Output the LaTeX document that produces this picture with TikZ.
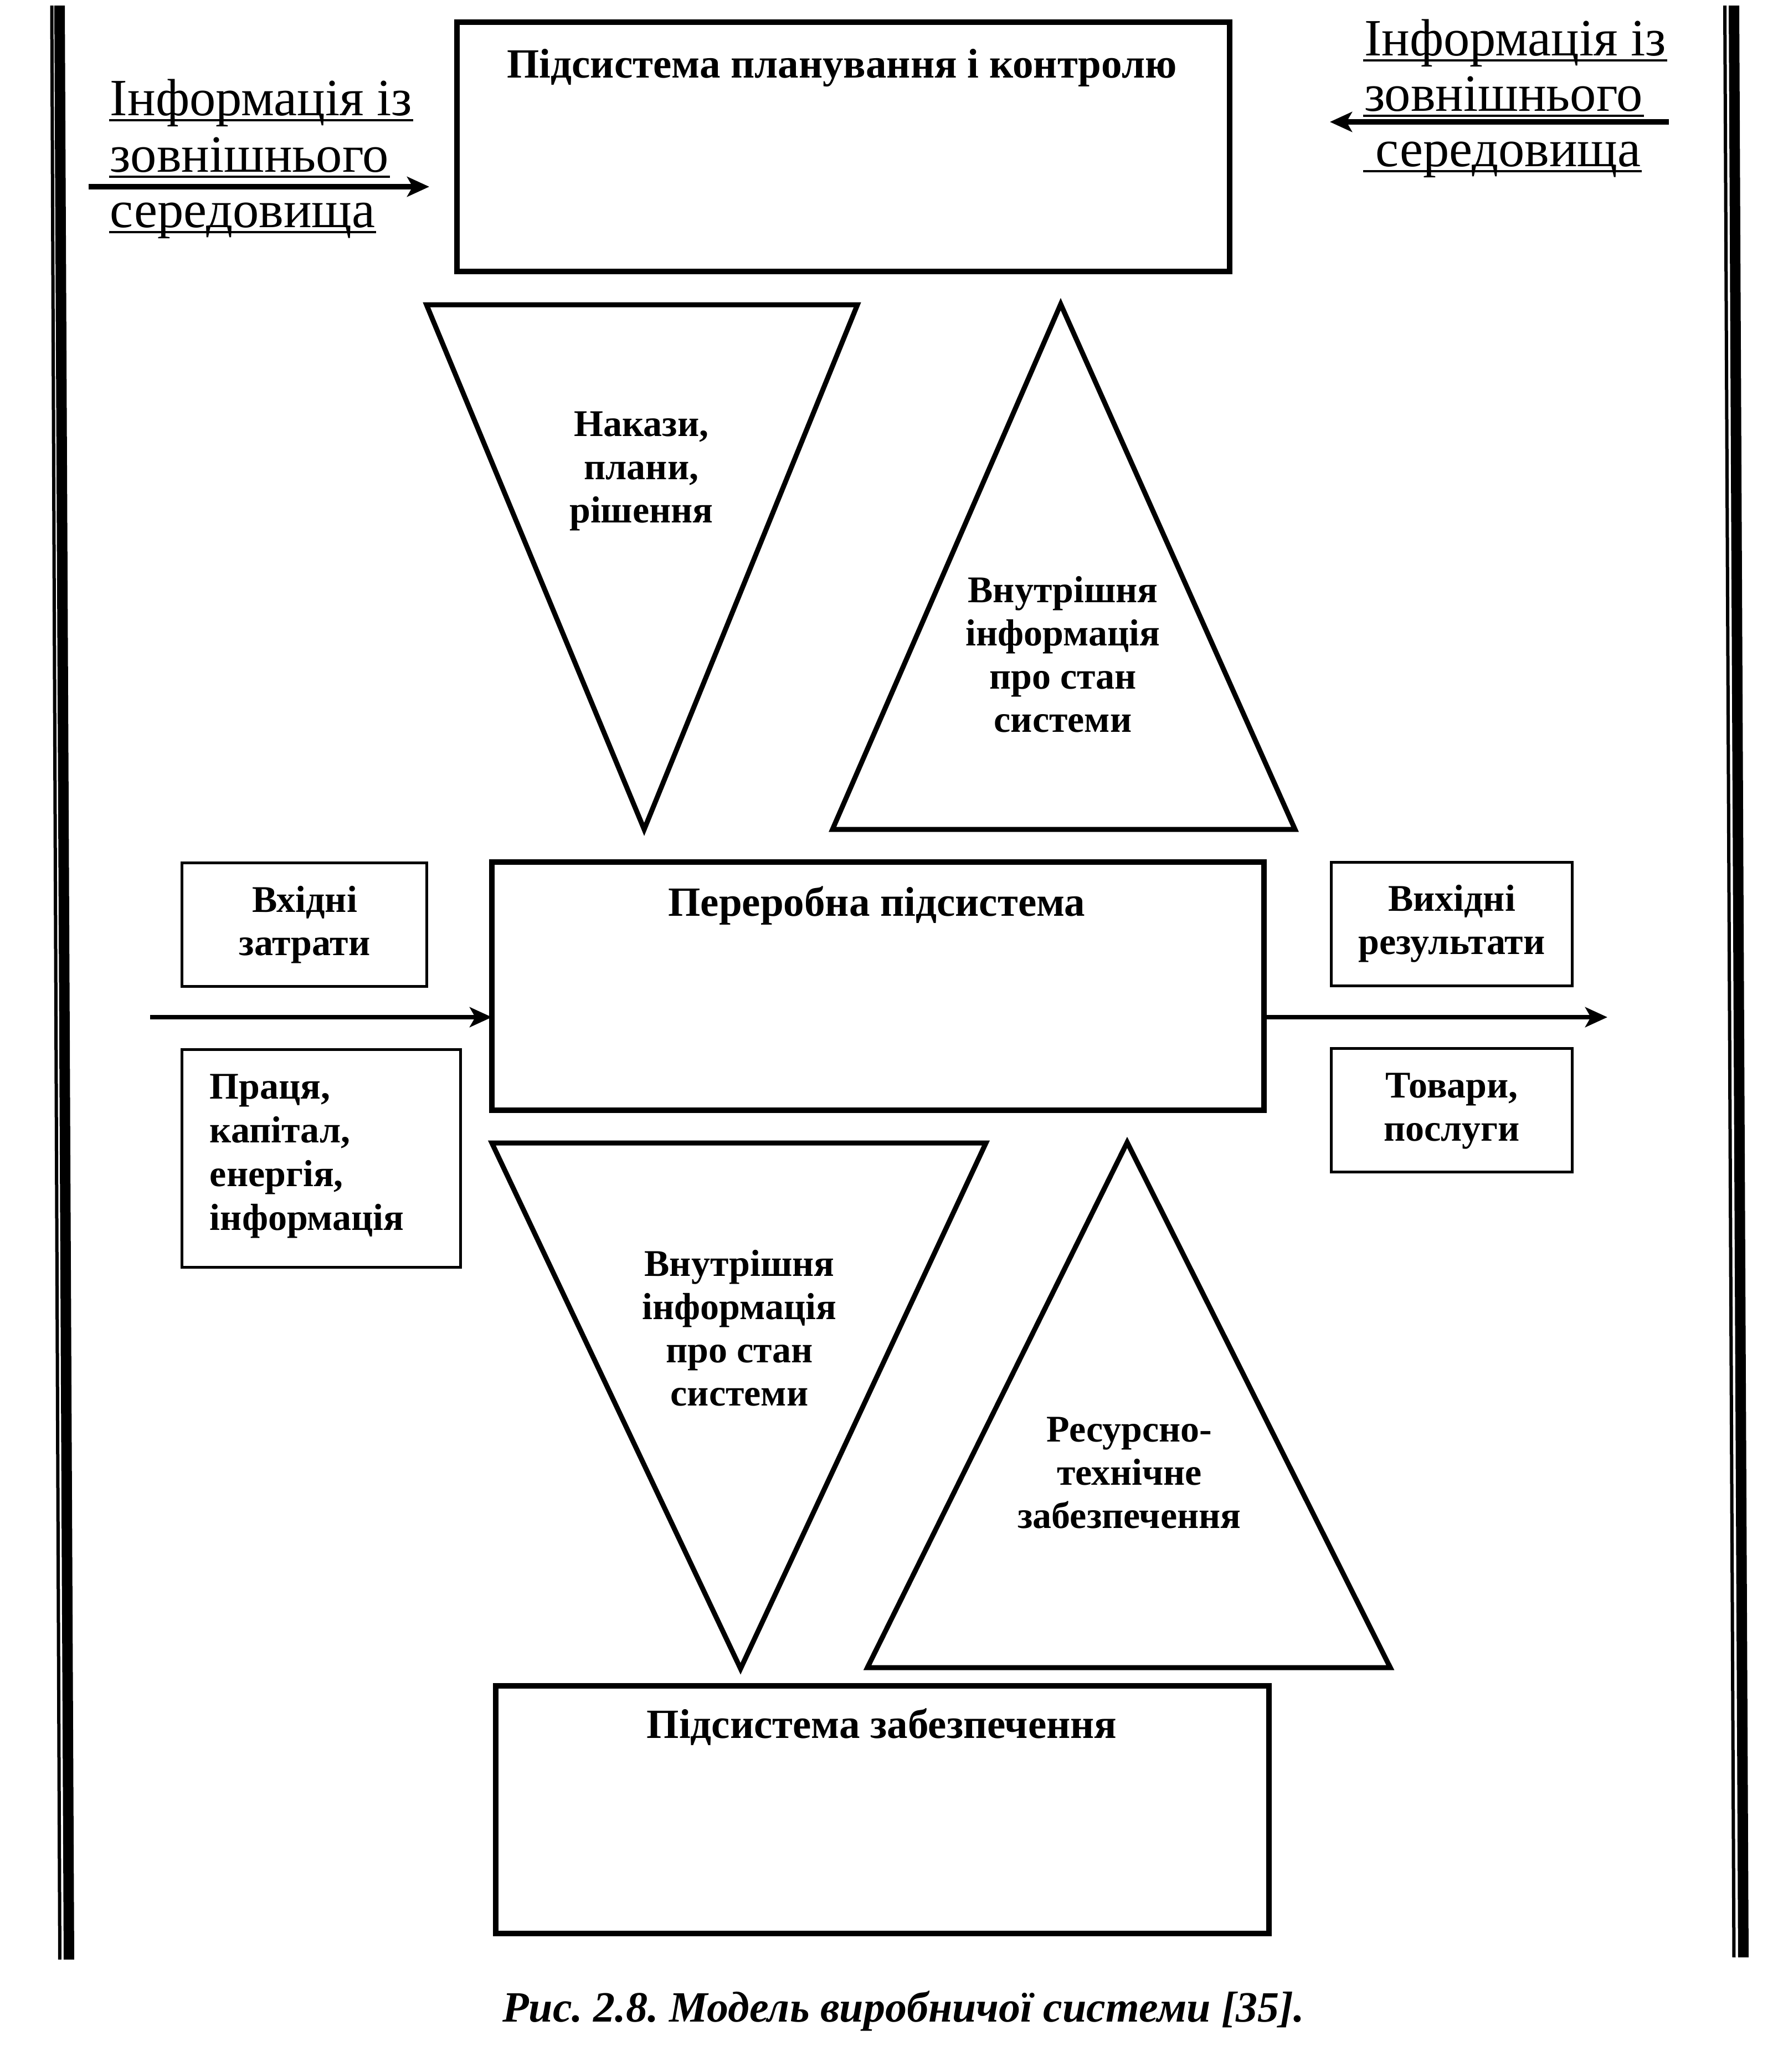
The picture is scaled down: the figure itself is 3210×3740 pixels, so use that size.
\documentclass[tikz,border=0pt]{standalone}
\usepackage{fontspec}
\setmainfont{Liberation Serif}
\usetikzlibrary{arrows.meta}
\begin{document}
\begin{tikzpicture}[x=0.1pt,y=-0.1pt,
  bigbox/.style={draw, line width=1pt, rectangle, inner sep=0pt, outer sep=0pt},
  smallbox/.style={draw, line width=0.5pt, rectangle, inner sep=0pt, outer sep=0pt},
  tri/.style={draw, line width=0.9pt, line join=miter},
  btxt/.style={inner sep=0pt, font=\fontsize{6.8}{7.8}\selectfont\bfseries, align=center, anchor=base},
  ttxt/.style={inner sep=0pt, font=\fontsize{7.5}{8.5}\selectfont\bfseries, anchor=base},
  ltxt/.style={inner sep=0pt, font=\fontsize{6.8}{7.9}\selectfont\bfseries, align=left, anchor=base west},
  rtxt/.style={inner sep=0pt, font=\fontsize{9.45}{10.1}\selectfont, anchor=base west},
  uline/.style={line width=0.4pt},
  bigarrow/.style={line width=1pt, -{Stealth[length=4pt,width=3.6pt,inset=1pt]}},
  midarrow/.style={line width=0.8pt, -{Stealth[length=4pt,width=3.6pt,inset=1pt]}},
  border/.style={line cap=butt},
]
\useasboundingbox (0,0) rectangle (3210,3740);
\fill[white] (0,0) rectangle (3210,3740);

% side double lines
\draw[border, line width=0.6pt] (93.5,10) -- (108,3537);
\draw[border, line width=1.9pt] (107.5,10) -- (124.5,3537);
\draw[border, line width=0.6pt] (3114,10) -- (3130.5,3533);
\draw[border, line width=1.9pt] (3130.5,10) -- (3147.5,3533);

% boxes
\node[bigbox, minimum width=139.5pt, minimum height=45pt] (plan) at (1522.5,265) {};
\node[bigbox, minimum width=139.4pt, minimum height=44.8pt] (proc) at (1585,1780) {};
\node[bigbox, minimum width=139.6pt, minimum height=44.7pt] (supply) at (1593,3266.5) {};
\node[smallbox, minimum width=44.3pt, minimum height=22.3pt] (inbox) at (549.5,1668.5) {};
\node[smallbox, minimum width=50.4pt, minimum height=39.3pt] (resbox) at (580,2090.5) {};
\node[smallbox, minimum width=43.6pt, minimum height=22.3pt] (outbox) at (2621,1667.5) {};
\node[smallbox, minimum width=43.6pt, minimum height=22.3pt] (goodsbox) at (2621,2003.5) {};

% box titles (multi-line nodes are placed by the baseline of their last line)
\node[ttxt] (plantitle) at (1520,140) {Підсистема планування і контролю};
\node[ttxt] (proctitle) at (1583,1653) {Переробна підсистема};
\node[ttxt] (supplytitle) at (1592,3137) {Підсистема забезпечення};
\node[btxt] (intext) at (550,1724) {Вхідні\\затрати};
\node[ltxt] (restext) at (377,2220) {Праця,\\капітал,\\енергія,\\інформація};
\node[btxt] (outtext) at (2621,1722) {Вихідні\\результати};
\node[btxt] (goodstext) at (2621,2059) {Товари,\\послуги};

% triangles
\coordinate (t1a) at (770,550); \coordinate (t1b) at (1548,550); \coordinate (t1c) at (1163,1497);
\coordinate (t2a) at (1915,549); \coordinate (t2b) at (2338,1497); \coordinate (t2c) at (1503,1497);
\coordinate (t3a) at (888,2063); \coordinate (t3b) at (1780,2063); \coordinate (t3c) at (1337,3012);
\coordinate (t4a) at (2035,2062); \coordinate (t4b) at (2510,3010); \coordinate (t4c) at (1566,3010);
\draw[tri] (t1a) -- (t1b) -- (t1c) -- cycle;
\draw[tri] (t2a) -- (t2b) -- (t2c) -- cycle;
\draw[tri] (t3a) -- (t3b) -- (t3c) -- cycle;
\draw[tri] (t4a) -- (t4b) -- (t4c) -- cycle;
\node[btxt] (t1text) at (1158,943) {Накази,\\плани,\\рішення};
\node[btxt] (t2text) at (1919,1321) {Внутрішня\\інформація\\про стан\\системи};
\node[btxt] (t3text) at (1335,2537) {Внутрішня\\інформація\\про стан\\системи};
\node[btxt] (t4text) at (2039,2758) {Ресурсно-\\технічне\\забезпечення};

% external information texts
\node[rtxt] (l1) at (197,208) {Інформація із};
\node[rtxt] (l2) at (197,310) {зовнішнього};
\node[rtxt] (l3) at (197,410) {середовища};
\node[rtxt] (r1) at (2461,100) {Інформація із};
\node[rtxt] (r2) at (2461,200) {зовнішнього};
\node[rtxt] (r3) at (2482,300) {середовища};
\foreach \n in {l1,l2,l3,r1,r2}{
  \draw[uline] ([yshift=-0.9pt]\n.base west) -- ([yshift=-0.9pt]\n.base east);
}
\draw[uline] ([yshift=-0.9pt,xshift=-2.1pt]r3.base west) -- ([yshift=-0.9pt]r3.base east);

% arrows
\coordinate (lfrom) at (160,337); \coordinate (lto) at (775,337);
\coordinate (rfrom) at (3013,220); \coordinate (rto) at (2401,220);
\draw[bigarrow] (lfrom) -- (lto);
\draw[bigarrow] (rfrom) -- (rto);
\coordinate (infrom) at (271,1836);
\coordinate (outto) at (2902,1836);
\draw[midarrow] (infrom) -- (infrom -| proc.west);
\draw[midarrow] (outto -| proc.east) -- (outto);

% caption
\node[inner sep=0pt, anchor=base, font=\fontsize{7.8}{8.6}\selectfont\bfseries\itshape\frenchspacing] (caption) at (1631,3649) {Рис. 2.8. Модель виробничої системи [35].};
\end{tikzpicture}
\end{document}
